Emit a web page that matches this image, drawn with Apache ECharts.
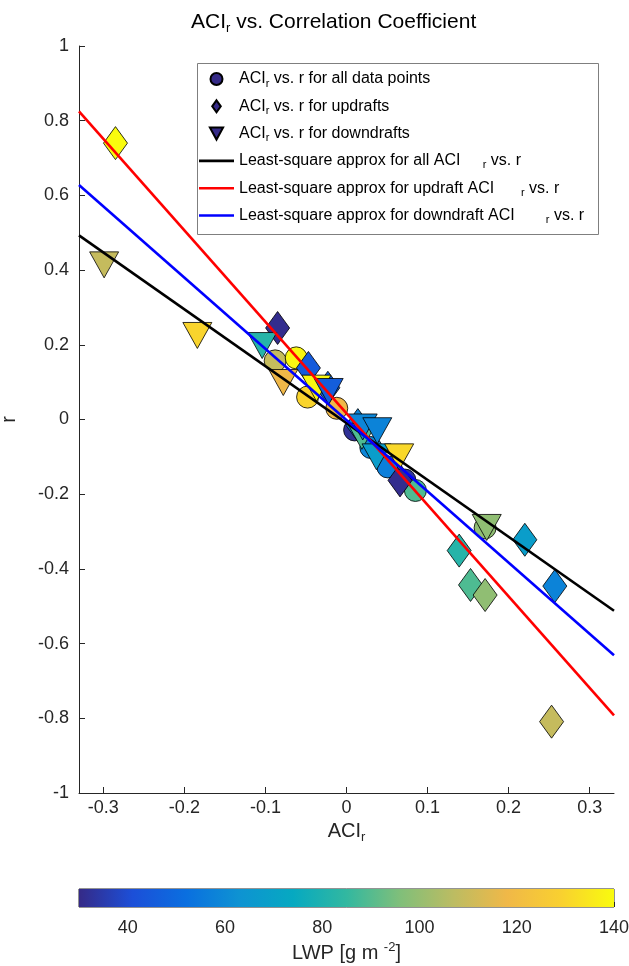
<!DOCTYPE html>
<html>
<head>
<meta charset="utf-8">
<script src="https://cdn.jsdelivr.net/npm/echarts@6/dist/echarts.min.js"></script>
<style>html,body{margin:0;padding:0;background:#fff}#chart{width:629px;height:966px}</style>
</head>
<body>
<div id="chart"></div>
<script>
// ---- data ----
const xTickValues = [-0.3, -0.2, -0.1, 0, 0.1, 0.2, 0.3];
const lwpTickValues = [40, 60, 80, 100, 120, 140];

// [ACI_r, r, LWP]
const allPoints = [
  [-0.088, 0.157, 109],
  [-0.062, 0.165, 139],
  [-0.048, 0.060, 130],
  [-0.012, 0.030, 118],
  [0.010, -0.028, 32],
  [0.030, -0.075, 59],
  [0.051, -0.127, 57],
  [0.072, -0.162, 33],
  [0.085, -0.190, 89],
  [0.171, -0.290, 99]
];
const updraftPoints = [
  [-0.285, 0.740, 140],
  [-0.085, 0.245, 31],
  [-0.047, 0.138, 45],
  [-0.023, 0.085, 47],
  [0.014, -0.015, 59],
  [0.066, -0.163, 31],
  [0.139, -0.351, 82],
  [0.153, -0.443, 89],
  [0.171, -0.470, 99],
  [0.220, -0.322, 68],
  [0.257, -0.446, 58],
  [0.253, -0.809, 109]
];
const downdraftPoints = [
  [-0.299, 0.414, 109],
  [-0.184, 0.225, 130],
  [-0.104, 0.198, 82],
  [-0.078, 0.099, 118],
  [-0.037, 0.084, 139],
  [-0.022, 0.075, 46],
  [0.019, -0.045, 89],
  [0.020, -0.020, 59],
  [0.038, -0.030, 58],
  [0.037, -0.100, 68],
  [0.065, -0.100, 131],
  [0.173, -0.289, 99]
];
const fitAll = [[-0.33, 0.493], [0.33, -0.512]];
const fitUpdraft = [[-0.33, 0.825], [0.33, -0.792]];
const fitDowndraft = [[-0.33, 0.628], [0.33, -0.631]];
const lwpRange = [30, 140];
const parulaColors = ['#352a87', '#1c4fd8', '#0a6fe0', '#0e93d2', '#06a9c1', '#32b8a0',
  '#80bf7a', '#bcbc62', '#f0b848', '#f9d030', '#f9fb0e'];

const legendTexts = {
  all: 'ACI{s|r} vs. r for all data points',
  up: 'ACI{s|r} vs. r for updrafts',
  down: 'ACI{s|r} vs. r for downdrafts',
  fitAll: 'Least-square approx for all ACI     {s|r} vs. r',
  fitUp: 'Least-square approx for updraft ACI      {s|r} vs. r',
  fitDown: 'Least-square approx for downdraft ACI       {s|r} vs. r'
};

// ---- chart ----
const FONT = 'Liberation Sans, Arial, Helvetica, sans-serif';
const TXT = '#262626';
const diamondPath = 'path://M5,0 L10,7 L5,14 L0,7 Z';
const triDownPath = 'path://M0,0 L11,0 L5.5,10 Z';
const lineIconPath = 'path://M0,0 L35,0 L35,2.6 L0,2.6 Z';
const chart = echarts.init(document.getElementById('chart'), null, {renderer: 'canvas'});

const scatterBase = {
  type: 'scatter',
  xAxisIndex: 0, yAxisIndex: 0,
  itemStyle: {color: '#352a87', borderColor: '#000', borderWidth: 0.8, opacity: 1},
  emphasis: {disabled: true},
  animation: false
};
const lineBase = {
  type: 'line', xAxisIndex: 0, yAxisIndex: 0,
  symbol: 'none', showSymbol: false, z: 10, animation: false,
  emphasis: {disabled: true}
};

const option = {
  animation: false,
  textStyle: {fontFamily: FONT, color: TXT},
  title: {
    text: 'ACI{s|r} vs. Correlation Coefficient',
    left: 186, top: 5,
    textStyle: {fontFamily: FONT, fontSize: 21, fontWeight: 'normal', color: '#000',
      rich: {s: {fontSize: 13, padding: [12, 0, 0, 0], fontFamily: FONT, color: '#000'}}}
  },
  grid: [
    {left: 79, right: 15, top: 46, bottom: 173, show: false, outerBoundsMode: 'none', containLabel: false},
    {left: 79, right: 15, top: 889, height: 18, show: true, borderColor: '#262626', borderWidth: 1,
     backgroundColor: 'transparent', outerBoundsMode: 'none', containLabel: false}
  ],
  xAxis: [
    {
      gridIndex: 0, type: 'value', min: -0.33, max: 0.33,
      name: 'ACI{s|r}', nameLocation: 'middle', nameGap: 24,
      nameTextStyle: {fontSize: 20, color: TXT, fontFamily: FONT,
        rich: {s: {fontSize: 13, padding: [12, 0, 0, 0], color: TXT, fontFamily: FONT}}},
      axisLine: {show: true, onZero: false, lineStyle: {color: TXT, width: 1}},
      axisTick: {show: true, inside: true, length: 6, lineStyle: {color: TXT}, customValues: xTickValues},
      axisLabel: {fontSize: 18, color: TXT, margin: 6, customValues: xTickValues,
        formatter: v => String(+v.toFixed(2))},
      splitLine: {show: false}
    },
    {
      gridIndex: 1, type: 'value', min: lwpRange[0], max: lwpRange[1],
      name: 'LWP [g m {p|-2}]', nameLocation: 'middle', nameGap: 34,
      nameTextStyle: {fontSize: 20, color: TXT, fontFamily: FONT,
        rich: {p: {fontSize: 13, padding: [0, 0, 12, 0], color: TXT, fontFamily: FONT}}},
      axisLine: {show: false},
      axisTick: {show: true, inside: true, length: 5, lineStyle: {color: TXT}, customValues: lwpTickValues},
      axisLabel: {fontSize: 18, color: TXT, margin: 12, customValues: lwpTickValues},
      splitLine: {show: false}
    }
  ],
  yAxis: [
    {
      gridIndex: 0, type: 'value', min: -1, max: 1, interval: 0.2,
      name: 'r', nameLocation: 'middle', nameGap: 60, nameRotate: 90,
      nameTextStyle: {fontSize: 20, color: TXT, fontFamily: FONT},
      axisLine: {show: true, onZero: false, lineStyle: {color: TXT, width: 1}},
      axisTick: {show: true, inside: true, length: 6, lineStyle: {color: TXT}},
      axisLabel: {fontSize: 18, color: TXT, margin: 10,
        formatter: v => String(+v.toFixed(2))},
      splitLine: {show: false}
    },
    {
      gridIndex: 1, type: 'value', min: 0, max: 1, show: false
    }
  ],
  visualMap: {
    type: 'continuous', show: false, min: lwpRange[0], max: lwpRange[1],
    dimension: 2, seriesIndex: [0, 1, 2],
    inRange: {color: parulaColors}
  },
  legend: {
    orient: 'vertical', left: 199, top: 70,
    itemWidth: 35, itemHeight: 12, itemGap: 8.3,
    padding: 0,
    data: [
      {name: 'all', icon: 'circle'},
      {name: 'up', icon: diamondPath},
      {name: 'down', icon: triDownPath},
      {name: 'fitAll', icon: lineIconPath},
      {name: 'fitUp', icon: lineIconPath},
      {name: 'fitDown', icon: lineIconPath}
    ],
    formatter: n => legendTexts[n],
    textStyle: {fontSize: 16, color: '#000', fontFamily: FONT, lineHeight: 18,
      rich: {s: {fontSize: 11, padding: [9, 0, 0, 0], color: '#000', fontFamily: FONT}}},
    selectedMode: false
  },
  graphic: [
    {type: 'rect', shape: {x: 197.5, y: 63.5, width: 401, height: 171},
     style: {fill: 'transparent', stroke: '#7f7f7f', lineWidth: 1}, z: 1, silent: true}
  ],
  series: [
    Object.assign({}, scatterBase, {name: 'all', data: allPoints, symbol: 'circle', symbolSize: 22, z: 2}),
    Object.assign({}, scatterBase, {name: 'up', data: updraftPoints, symbol: diamondPath, symbolSize: [24, 33], z: 3}),
    Object.assign({}, scatterBase, {name: 'down', data: downdraftPoints, symbol: triDownPath, symbolSize: [29, 26], z: 4}),
    Object.assign({}, lineBase, {name: 'fitAll', data: fitAll, lineStyle: {color: '#000', width: 2.6}, itemStyle: {color: '#000'}}),
    Object.assign({}, lineBase, {name: 'fitUp', data: fitUpdraft, lineStyle: {color: '#ff0000', width: 2.6}, itemStyle: {color: '#ff0000'}}),
    Object.assign({}, lineBase, {name: 'fitDown', data: fitDowndraft, lineStyle: {color: '#0000ff', width: 2.6}, itemStyle: {color: '#0000ff'}}),
    {
      type: 'custom', xAxisIndex: 1, yAxisIndex: 1, silent: true, animation: false,
      data: [[lwpRange[0], lwpRange[1]]],
      renderItem: function (params, api) {
        const p0 = api.coord([api.value(0), 1]);
        const p1 = api.coord([api.value(1), 0]);
        const stops = parulaColors.map((c, i) => ({offset: i / (parulaColors.length - 1), color: c}));
        return {
          type: 'rect',
          shape: {x: p0[0], y: p0[1], width: p1[0] - p0[0], height: p1[1] - p0[1]},
          style: {fill: new echarts.graphic.LinearGradient(0, 0, 1, 0, stops)}
        };
      }
    }
  ]
};
chart.setOption(option);
</script>
</body>
</html>
